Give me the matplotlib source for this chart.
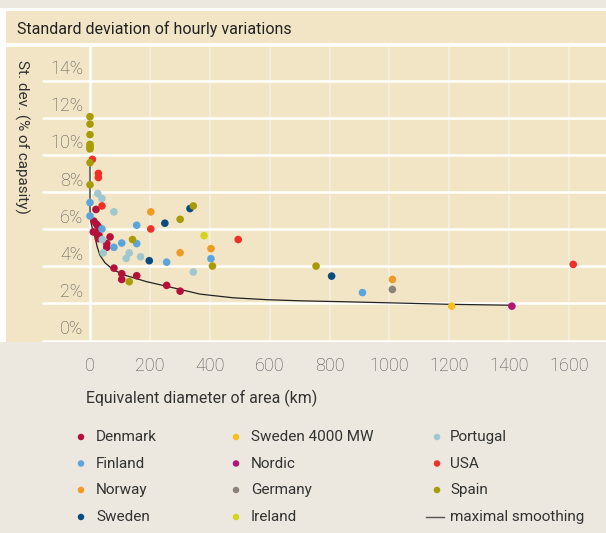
import matplotlib
matplotlib.use("Agg")
import matplotlib.pyplot as plt
from matplotlib.patches import Rectangle

# ---------------- data (km, % of capacity) ----------------
denmark_x = [20, 13, 22, 27, 11, 24, 30, 28, 67, 56, 56, 80, 106, 106, 156, 256, 301]
denmark_y = [7.06, 6.43, 6.26, 6.15, 5.85, 5.79, 5.67, 5.49, 5.58, 5.22, 5.02, 3.90, 3.60, 3.29, 3.49, 2.97, 2.66]

finland_x = [0, 0, 40, 80, 106, 156, 156, 256, 404, 910]
finland_y = [7.43, 6.71, 6.01, 5.02, 5.25, 6.21, 5.22, 4.22, 4.41, 2.58]

norway_x = [203, 301, 404, 1010]
norway_y = [6.93, 4.73, 4.95, 3.29]

sweden_x = [250, 334, 198, 807]
sweden_y = [6.32, 7.11, 4.30, 3.47]

sweden4000_x = [1208]
sweden4000_y = [1.85]

nordic_x = [1409]
nordic_y = [1.85]

germany_x = [1010]
germany_y = [2.75]

ireland_x = [381]
ireland_y = [5.65]

portugal_x = [26, 40, 80, 41, 44, 131, 121, 169, 345]
portugal_y = [7.92, 7.65, 6.93, 5.44, 4.72, 4.72, 4.42, 4.51, 3.69]

usa_x = [8, 28, 28, 40, 203, 495, 1614]
usa_y = [9.76, 9.00, 8.78, 7.25, 6.01, 5.44, 4.10]

spain_x = [0, 0, 0, 0, 0, 0, 0, 0, 142, 131, 301, 345, 409, 755]
spain_y = [12.06, 11.66, 11.09, 10.57, 10.44, 10.32, 9.58, 8.39, 5.44, 3.17, 6.53, 7.25, 4.01, 4.01]

smooth_x = [0, 0, 4, 10, 17, 24, 33, 50, 78, 122, 189, 262, 367, 479, 590, 700, 870, 1000, 1200, 1410]
smooth_y = [9.55, 7.0, 6.3, 5.9, 5.55, 5.05, 4.6, 4.19, 3.8, 3.49, 3.17, 2.9, 2.5, 2.3, 2.2, 2.14, 2.08, 2.03, 1.95, 1.9]

x_ticks = [0, 200, 400, 600, 800, 1000, 1200, 1400, 1600]
y_ticks = [0, 2, 4, 6, 8, 10, 12, 14]

title = "Standard deviation of hourly variations"
x_label = "Equivalent diameter of area (km)"
y_label = "St. dev. (% of capasity)"

# ---------------- style ----------------
W, H = 606, 533
GREY = "#ece7df"
BEIGE = "#f2e5c6"
FONT = ["Roboto", "DejaVu Sans"]
TICK_COLOR = "#555555"

series = [
    ("Denmark", denmark_x, denmark_y, "#b5103c"),
    ("Finland", finland_x, finland_y, "#5aa5dc"),
    ("Norway", norway_x, norway_y, "#ee9a25"),
    ("Sweden", sweden_x, sweden_y, "#094c80"),
    ("Sweden 4000 MW", sweden4000_x, sweden4000_y, "#f7be1e"),
    ("Nordic", nordic_x, nordic_y, "#b3127a"),
    ("Germany", germany_x, germany_y, "#8c8378"),
    ("Ireland", ireland_x, ireland_y, "#d5d31b"),
    ("Portugal", portugal_x, portugal_y, "#9ec7d0"),
    ("USA", usa_x, usa_y, "#ee3124"),
    ("Spain", spain_x, spain_y, "#a79b07"),
]

plt.rcParams["font.family"] = FONT

fig = plt.figure(figsize=(W / 100, H / 100), dpi=100)
fig.patch.set_facecolor(GREY)

# background pieces in pixel coordinates
bg = fig.add_axes([0, 0, 1, 1])
bg.set_xlim(0, W)
bg.set_ylim(H, 0)
bg.axis("off")
bg.add_patch(Rectangle((0, 8.3), W, 342 - 8.3, color="white", lw=0))
bg.add_patch(Rectangle((6, 11), W - 6, 43.3 - 11, color=BEIGE, lw=0))

# main plot panel
x0_px, km_px = 90.0, 0.2994
y0_px, pct_px = 340.5, 18.56
panel_l, panel_r, panel_t, panel_b = 6, 606, 46.7, 342
ax = fig.add_axes([panel_l / W, 1 - panel_b / H, (panel_r - panel_l) / W, (panel_b - panel_t) / H])
ax.set_facecolor(BEIGE)
xmin = (panel_l - x0_px) / km_px
xmax = (panel_r - x0_px) / km_px
ax.set_xlim(xmin, xmax)
ax.set_ylim((y0_px - panel_b) / pct_px, (y0_px - panel_t) / pct_px)
for s in ax.spines.values():
    s.set_visible(False)
ax.set_yticks([])

# grid
grid_start = (42 - x0_px) / km_px
for v in x_ticks[1:]:
    ax.axvline(v, color="#f6eedd", lw=1.4, zorder=0.5)
ax.axvline(0, color="white", lw=1.8, zorder=1)
for v in y_ticks:
    ax.plot([grid_start, xmax], [v, v], color="white", lw=1.8,
            solid_capstyle="butt", zorder=1)

# y tick labels (sit just above their grid lines)
for v in y_ticks:
    ax.text(-22, v + 0.62, f"{v}%", ha="right", va="center", fontsize=13,
            color=TICK_COLOR, fontweight="light")

# x ticks below the panel
ax.set_xticks(x_ticks)
ax.set_xticklabels([str(v) for v in x_ticks], fontweight="light")
ax.tick_params(axis="x", length=0, pad=11, labelsize=13, labelcolor=TICK_COLOR)

# curve + points
ax.plot(smooth_x, smooth_y, color="#222222", lw=0.9, zorder=2)
for name, xs, ys, c in series:
    ax.scatter(xs, ys, s=30, color=c, edgecolors="none", zorder=3)

# texts
fig.text(17 / W, 1 - 29 / H, title, ha="left", va="center", fontsize=11.5,
         color="#222222")
fig.text(22 / W, 1 - 137 / H, y_label, ha="center", va="center",
         rotation=270, fontsize=11, color="#333333")
fig.text(86 / W, 1 - 398 / H, x_label, ha="left", va="center", fontsize=11.4,
         color="#333333")

# legend (manual, pixel coordinates)
ov = fig.add_axes([0, 0, 1, 1])
ov.set_xlim(0, W)
ov.set_ylim(H, 0)
ov.axis("off")
ov.patch.set_visible(False)
col_marker = [81, 236, 437]
col_text = [96, 251, 450]
rows = [437, 463.5, 490, 517]
for i, (name, xs, ys, c) in enumerate(series):
    col, row = divmod(i, 4)
    ov.scatter([col_marker[col]], [rows[row]], s=22, color=c, edgecolors="none")
    ov.text(col_text[col], rows[row], name, ha="left", va="center",
            fontsize=11, color="#333333")
ov.plot([426, 444], [rows[3], rows[3]], color="#555555", lw=1.0)
ov.text(col_text[2], rows[3], "maximal smoothing", ha="left", va="center",
        fontsize=11, color="#333333")

fig.savefig("out.png", dpi=100, facecolor=fig.get_facecolor())
